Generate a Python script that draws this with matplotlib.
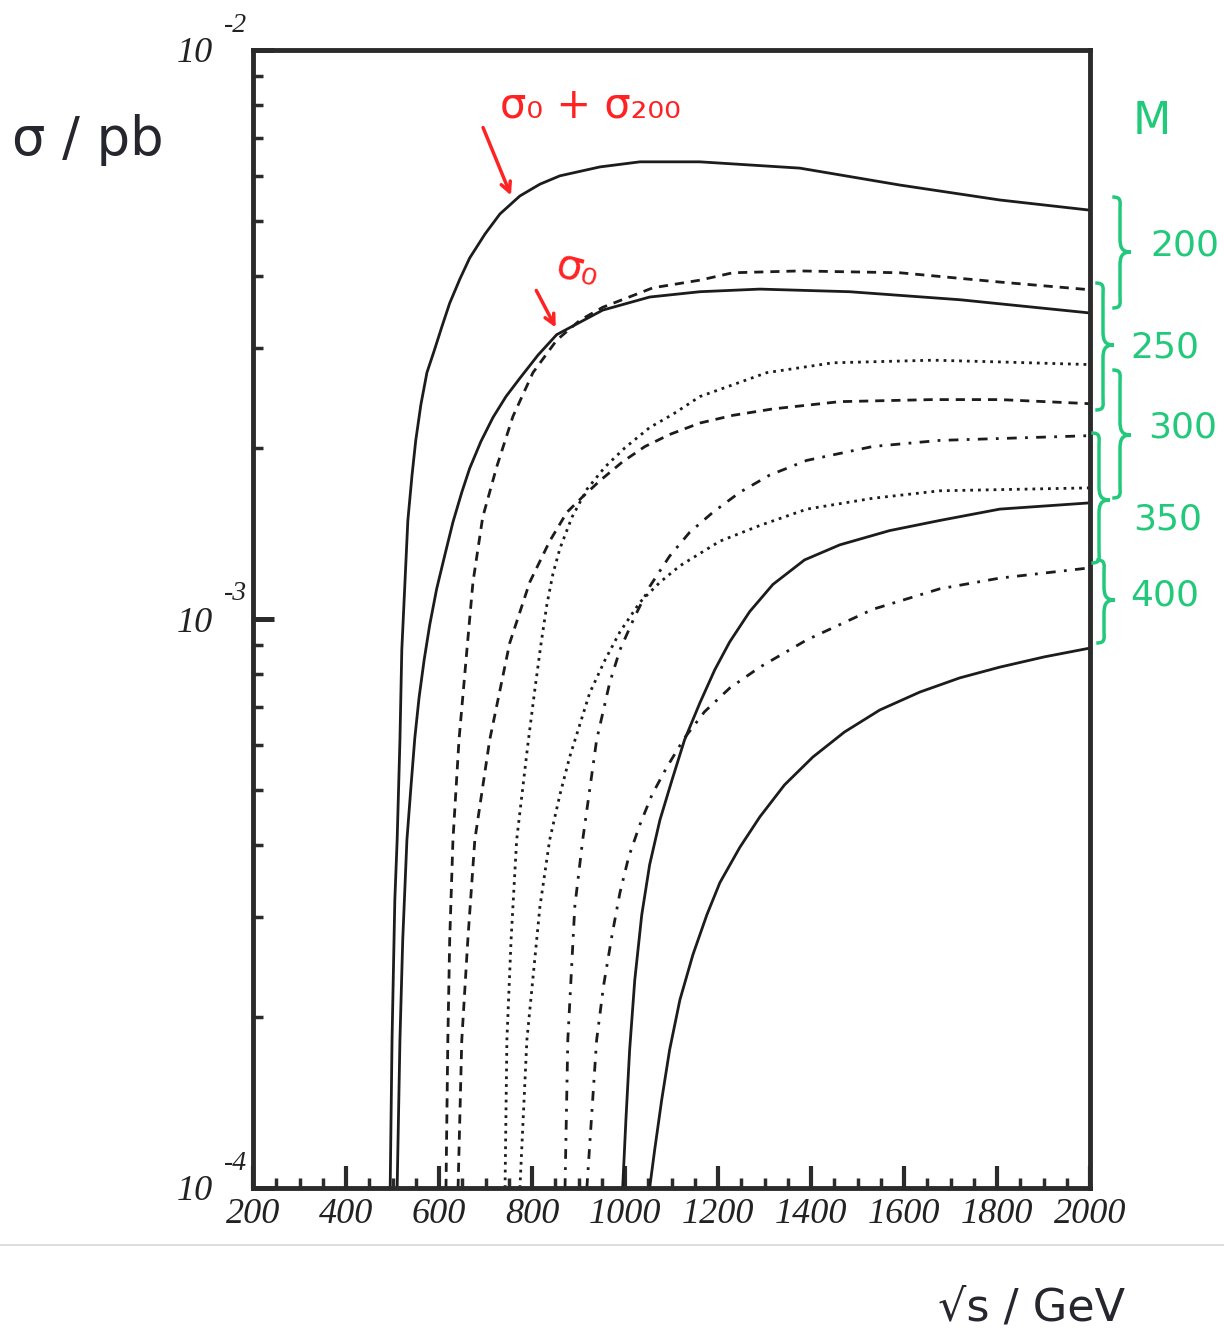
import numpy as np
import matplotlib.pyplot as plt
from matplotlib.ticker import MultipleLocator, LogLocator, NullFormatter, FuncFormatter
from matplotlib.path import Path
from matplotlib.patches import PathPatch
from matplotlib.lines import Line2D

plt.rcParams['font.family'] = 'Liberation Serif'
plt.rcParams['font.style'] = 'italic'

# sqrt(s) in GeV, sigma in pb
x_m200_a = [495, 499, 505, 510, 516, 520, 527, 533, 542, 550, 561, 574, 589, 606, 623, 645, 666, 699,
            731, 774, 817, 860, 946, 1032, 1161, 1376, 1591, 1806, 2000]
s_m200_a = [1.0e-4, 1.82e-4, 3.21e-4, 4.09e-4, 6.13e-4, 8.82e-4, 1.17e-3, 1.49e-3, 1.79e-3, 2.06e-3,
            2.38e-3, 2.71e-3, 2.95e-3, 3.26e-3, 3.59e-3, 3.96e-3, 4.31e-3, 4.75e-3, 5.15e-3, 5.54e-3,
            5.81e-3, 6.01e-3, 6.23e-3, 6.36e-3, 6.36e-3, 6.20e-3, 5.79e-3, 5.45e-3, 5.23e-3]
x_m200_b = [510, 516, 522, 531, 540, 548, 557, 568, 580, 595, 613, 630, 649, 666, 690, 716, 744, 774,
            813, 853, 952, 1053, 1161, 1290, 1483, 1720, 2000]
s_m200_b = [1.0e-4, 1.82e-4, 2.73e-4, 4.09e-4, 5.11e-4, 6.18e-4, 7.26e-4, 8.47e-4, 9.76e-4, 1.13e-3,
            1.30e-3, 1.48e-3, 1.67e-3, 1.84e-3, 2.05e-3, 2.26e-3, 2.46e-3, 2.65e-3, 2.91e-3, 3.16e-3,
            3.49e-3, 3.68e-3, 3.76e-3, 3.80e-3, 3.76e-3, 3.64e-3, 3.45e-3]

x_m250_a = [615, 619, 623, 630, 643, 660, 673, 694, 724, 759, 802, 853, 903, 952, 1060, 1161, 1232,
            1376, 1591, 1806, 2000]
s_m250_a = [1.0e-4, 1.82e-4, 2.73e-4, 4.09e-4, 6.13e-4, 8.82e-4, 1.16e-3, 1.51e-3, 1.85e-3, 2.27e-3,
            2.71e-3, 3.09e-3, 3.35e-3, 3.53e-3, 3.82e-3, 3.94e-3, 4.06e-3, 4.09e-3, 4.06e-3, 3.91e-3,
            3.79e-3]
x_m250_b = [641, 649, 662, 677, 709, 752, 795, 838, 875, 909, 946, 995, 1043, 1096, 1161, 1232, 1318,
            1462, 1662, 1806, 2000]
s_m250_b = [1.0e-4, 1.82e-4, 2.73e-4, 4.09e-4, 6.13e-4, 9.07e-4, 1.16e-3, 1.37e-3, 1.54e-3, 1.64e-3,
            1.75e-3, 1.89e-3, 2.01e-3, 2.11e-3, 2.21e-3, 2.28e-3, 2.34e-3, 2.41e-3, 2.43e-3, 2.43e-3,
            2.39e-3]

x_m300_a = [742, 746, 755, 767, 791, 806, 819, 832, 845, 860, 886, 918, 957, 1000, 1053, 1103, 1161,
            1305, 1447, 1662, 1806, 2000]
s_m300_a = [1.0e-4, 1.82e-4, 2.73e-4, 4.09e-4, 6.01e-4, 7.50e-4, 9.0e-4, 1.06e-3, 1.20e-3, 1.33e-3,
            1.51e-3, 1.69e-3, 1.85e-3, 2.00e-3, 2.17e-3, 2.29e-3, 2.46e-3, 2.71e-3, 2.82e-3, 2.85e-3,
            2.83e-3, 2.80e-3]
x_m300_b = [774, 789, 817, 838, 860, 881, 924, 957, 989, 1032, 1075, 1118, 1204, 1290, 1391, 1533,
            1677, 2000]
s_m300_b = [1.0e-4, 1.82e-4, 3.12e-4, 4.09e-4, 4.91e-4, 5.72e-4, 7.41e-4, 8.47e-4, 9.49e-4, 1.07e-3,
            1.16e-3, 1.24e-3, 1.37e-3, 1.46e-3, 1.56e-3, 1.63e-3, 1.68e-3, 1.70e-3]

x_m350_a = [871, 877, 892, 909, 939, 967, 989, 1021, 1053, 1096, 1139, 1189, 1247, 1311, 1391, 1533,
            1677, 2000]
s_m350_a = [1.0e-4, 1.82e-4, 3.12e-4, 4.09e-4, 6.13e-4, 7.72e-4, 8.82e-4, 1.01e-3, 1.14e-3, 1.29e-3,
            1.42e-3, 1.54e-3, 1.67e-3, 1.79e-3, 1.90e-3, 2.01e-3, 2.06e-3, 2.10e-3]
x_m350_b = [918, 939, 954, 972, 989, 1008, 1032, 1058, 1090, 1128, 1171, 1225, 1290, 1391, 1533, 1677,
            1806, 2000]
s_m350_b = [1.0e-4, 1.82e-4, 2.27e-4, 2.78e-4, 3.30e-4, 3.82e-4, 4.35e-4, 4.91e-4, 5.49e-4, 6.18e-4,
            6.87e-4, 7.56e-4, 8.23e-4, 9.19e-4, 1.04e-3, 1.13e-3, 1.18e-3, 1.23e-3]

x_m400_a = [995, 1002, 1010, 1021, 1036, 1053, 1075, 1101, 1128, 1161, 1193, 1225, 1268, 1318, 1386,
            1462, 1569, 1677, 1806, 2000]
s_m400_a = [1.0e-4, 1.32e-4, 1.75e-4, 2.32e-4, 3.02e-4, 3.70e-4, 4.43e-4, 5.21e-4, 6.13e-4, 7.12e-4,
            8.14e-4, 9.11e-4, 1.03e-3, 1.15e-3, 1.27e-3, 1.35e-3, 1.43e-3, 1.49e-3, 1.56e-3, 1.60e-3]
x_m400_b = [1053, 1064, 1079, 1096, 1118, 1146, 1176, 1204, 1247, 1290, 1343, 1404, 1472, 1548, 1634,
            1720, 1806, 1902, 2000]
s_m400_b = [1.0e-4, 1.17e-4, 1.43e-4, 1.75e-4, 2.14e-4, 2.57e-4, 3.02e-4, 3.44e-4, 3.97e-4, 4.49e-4,
            5.11e-4, 5.72e-4, 6.33e-4, 6.92e-4, 7.44e-4, 7.88e-4, 8.23e-4, 8.58e-4, 8.89e-4]

mass_labels = ['200', '250', '300', '350', '400']

W, H = 1224, 1342
INK = '#1c1c1c'
RED = '#ff2222'
GREEN = '#22c97a'

SOLID = '-'
DASHED = (0, (3.3, 2.5))
DOTTED = (0, (1.0, 1.8))
DASHDOT = (0, (3.5, 3.0, 1.0, 3.0))

curves = [
    (x_m200_a, s_m200_a, SOLID), (x_m200_b, s_m200_b, SOLID),
    (x_m250_a, s_m250_a, DASHED), (x_m250_b, s_m250_b, DASHED),
    (x_m300_a, s_m300_a, DOTTED), (x_m300_b, s_m300_b, DOTTED),
    (x_m350_a, s_m350_a, DASHDOT), (x_m350_b, s_m350_b, DASHDOT),
    (x_m400_a, s_m400_a, SOLID), (x_m400_b, s_m400_b, SOLID),
]


def ff(x, y):
    # pixel position -> figure fraction
    return x / W, 1 - y / H


fig = plt.figure(figsize=(W / 100, H / 100), dpi=100)
ax = fig.add_axes([253 / W, 1 - 1188 / H, (1090 - 253) / W, (1188 - 50) / H])

for xs, ss, ls in curves:
    ax.plot(xs, ss, color=INK, lw=2.0, ls=ls, solid_joinstyle='round')

ax.set_yscale('log')
ax.set_xlim(200, 2000)
ax.set_ylim(1e-4, 1e-2)
ax.xaxis.set_major_locator(MultipleLocator(200))
ax.xaxis.set_minor_locator(MultipleLocator(50))
ax.yaxis.set_major_locator(LogLocator(base=10, numticks=10))
ax.yaxis.set_minor_locator(LogLocator(base=10, subs=np.arange(2, 10), numticks=20))
ax.yaxis.set_minor_formatter(NullFormatter())
ax.yaxis.set_major_formatter(FuncFormatter(lambda v, p: '10'))

for s in ax.spines.values():
    s.set_linewidth(3.5)
    s.set_color('#2b2b2b')
ax.tick_params(which='both', direction='in', top=False, right=False, color='#2b2b2b', labelcolor='#222222')
ax.tick_params(axis='x', which='major', length=16, width=3, labelsize=26, pad=7)
ax.tick_params(axis='y', which='major', length=15, width=3.6, labelsize=26, pad=29)
ax.tick_params(which='minor', length=7, width=2.5)

# exponents of the decade labels, written as superscripts
for v in [1e-4, 1e-3, 1e-2]:
    ax.annotate('-%d' % int(round(-np.log10(v))), xy=(0, v), xycoords=('axes fraction', 'data'),
                xytext=(-4.5, 9), textcoords='offset points', ha='right', va='bottom',
                fontsize=20, color='#222222', annotation_clip=False)

# handwritten labels
hand = dict(family='DejaVu Sans', style='normal')
fig.text(*ff(12, 140), 'σ / pb', fontsize=38, color='#26262e', va='center', ha='left', **hand)
fig.text(*ff(1032, 1308), '√s / GeV', fontsize=32, color='#26262e', va='center', ha='center', **hand)

# red annotations
fig.text(*ff(500, 105), 'σ₀ + σ₂₀₀', fontsize=30, color=RED, va='center', ha='left', **hand)
fig.text(*ff(552, 270), 'σ₀', fontsize=30, color=RED, va='center', ha='left', rotation=-15, **hand)
for (x0, y0), (x1, y1) in [((482, 125), (512, 198)), ((535, 288), (557, 330))]:
    ax.annotate('', xy=ff(x1, y1), xytext=ff(x0, y0), xycoords='figure fraction',
                textcoords='figure fraction',
                arrowprops=dict(arrowstyle='->,head_length=0.7,head_width=0.35', color=RED, lw=2.5))

# green mass brackets
fig.text(*ff(1152, 122), 'M', fontsize=32, color=GREEN, va='center', ha='center', **hand)


def brace(x, ytop, ybot, ytip, w=11, r=14):
    pts = [(x - w * 0.7, ytop), (x + 2, ytop), (x, ytop + r * 0.3), (x, ytop + r),
           (x, ytip - r),
           (x, ytip - r * 0.3), (x + 2, ytip), (x + w, ytip),
           (x + 2, ytip), (x, ytip + r * 0.3), (x, ytip + r),
           (x, ybot - r),
           (x, ybot - r * 0.3), (x + 2, ybot), (x - w * 0.7, ybot)]
    codes = [Path.MOVETO, Path.CURVE4, Path.CURVE4, Path.CURVE4, Path.LINETO,
             Path.CURVE4, Path.CURVE4, Path.CURVE4, Path.CURVE4, Path.CURVE4, Path.CURVE4,
             Path.LINETO, Path.CURVE4, Path.CURVE4, Path.CURVE4]
    verts = [ff(px, py) for px, py in pts]
    fig.add_artist(PathPatch(Path(verts, codes), transform=fig.transFigure, fill=False,
                             edgecolor=GREEN, lw=2.5, clip_on=False))


braces = [(1120, 197, 308, 252), (1103, 283, 410, 345), (1120, 370, 498, 435),
          (1099, 433, 563, 500), (1104, 560, 643, 600)]
label_pos = [(1185, 245), (1165, 347), (1183, 428), (1168, 520), (1165, 595)]
for (bx, bt, bb, bm), (lx, ly), lab in zip(braces, label_pos, mass_labels):
    brace(bx, bt, bb, bm)
    fig.text(*ff(lx, ly), lab, fontsize=26, color=GREEN, va='center', ha='center', **hand)

# faint scanner line
fig.add_artist(Line2D([0, 1], [1 - 1245 / H] * 2, transform=fig.transFigure, color='#d3d8da', lw=1.2))

fig.savefig('out.png', dpi=100)
